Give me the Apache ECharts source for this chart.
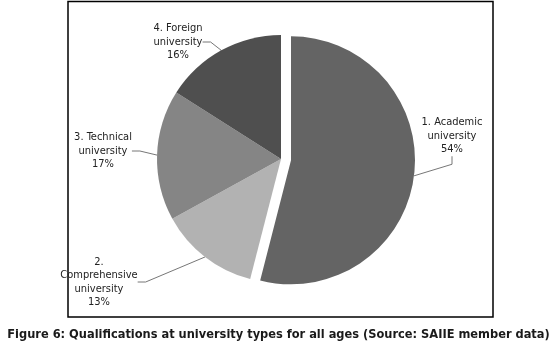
<!DOCTYPE html>
<html>
<head>
<meta charset="utf-8">
<script src="https://cdn.jsdelivr.net/npm/echarts@6/dist/echarts.min.js"></script>
<style>
  html, body { margin: 0; padding: 0; background: #fff; }
  #main { width: 557px; height: 353px; }
</style>
</head>
<body>
<div id="main"></div>
<script>
// data
var categories = ['1. Academic\nuniversity', '2.\nComprehensive\nuniversity', '3. Technical\nuniversity', '4. Foreign\nuniversity'];
var shares = [54, 13, 17, 16];
var sliceColors = ['#646464', '#b2b2b2', '#858585', '#4f4f4f'];
var caption = 'Figure 6: Qualifications at university types for all ages (Source: SAIIE member data)';

// where each label block sits (centre of text)
var labelSpots = [[452, 136], [99, 282], [103, 151], [178, 42]];

var myChart = echarts.init(document.getElementById('main'), null, { renderer: 'canvas' });

// the pulled-out slice (index 0) is drawn by its own series with a shifted centre
function buildData(showFirst) {
  return categories.map(function (name, i) {
    var visible = (i === 0) === showFirst;
    return {
      name: name,
      value: shares[i],
      itemStyle: { color: visible ? sliceColors[i] : 'rgba(0,0,0,0)' },
      label: { show: visible },
      labelLine: { show: visible }
    };
  });
}

var seriesBase = {
  type: 'pie',
  radius: 124,
  startAngle: 90,
  clockwise: true,
  avoidLabelOverlap: false,
  silent: true,
  itemStyle: { borderWidth: 0 },
  label: {
    show: true,
    position: 'outside',
    formatter: '{b}\n{d}%',
    color: '#222',
    fontSize: 11,
    lineHeight: 13.5,
    align: 'center',
    fontFamily: '"DejaVu Sans Condensed", sans-serif'
  },
  labelLine: {
    show: true,
    length: 10,
    length2: 8,
    lineStyle: { color: '#777', width: 1 }
  },
  labelLayout: function (params) {
    var p = labelSpots[params.dataIndex];
    return { x: p[0], y: p[1], align: 'center', verticalAlign: 'middle' };
  }
};

var option = {
  animation: false,
  backgroundColor: '#ffffff',
  graphic: [
    {
      type: 'rect',
      shape: { x: 68, y: 1.5, width: 425, height: 315.5 },
      style: { fill: 'none', stroke: '#000', lineWidth: 1.5 },
      z: 0
    },
    {
      type: 'text',
      left: 'center',
      top: 328,
      style: {
        text: caption,
        font: 'bold 12.7px "DejaVu Sans Condensed", sans-serif',
        fill: '#1a1a1a'
      }
    }
  ],
  series: [
    Object.assign({}, seriesBase, {
      name: 'rest',
      center: [281, 159],
      data: buildData(false)
    }),
    Object.assign({}, seriesBase, {
      name: 'academic',
      center: [291, 160.3],
      data: buildData(true)
    })
  ]
};

myChart.setOption(option);
</script>
</body>
</html>
